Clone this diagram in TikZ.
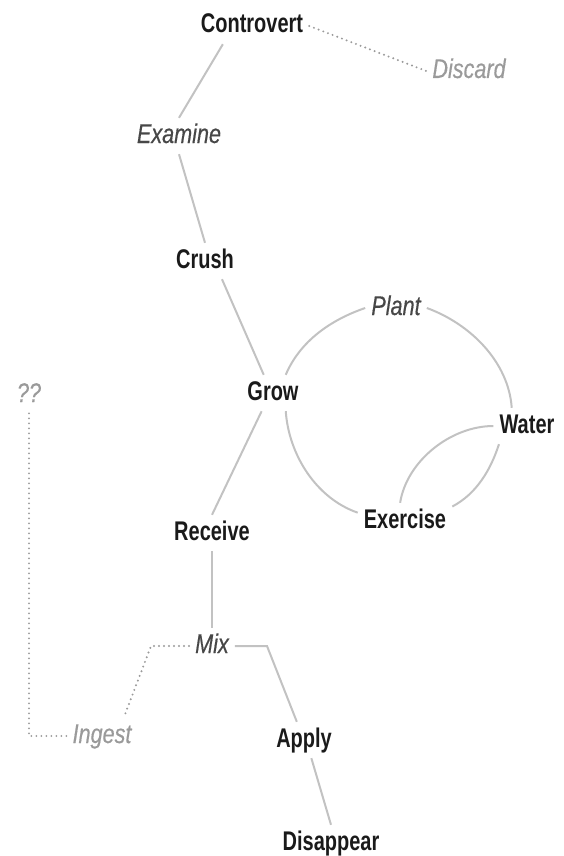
\documentclass[tikz,border=0pt]{standalone}
\usepackage{fontspec}
\setmainfont{Liberation Sans}[FakeStretch=0.74,ItalicFeatures={FakeStretch=0.8,FakeBold=0.4}]
\definecolor{ink}{HTML}{1A1A1A}
\definecolor{mid}{HTML}{474747}
\definecolor{pale}{HTML}{9A9A9A}
\definecolor{wire}{HTML}{C2C2C2}

\begin{document}
\begin{tikzpicture}
  [x=1pt,y=1pt,
   every node/.style={anchor=base,inner sep=6pt,text height=19pt,text depth=5pt,
     font=\fontsize{27}{30}\selectfont\bfseries,text=ink},
   soft/.style={font=\fontsize{27}{30}\selectfont\itshape,text=mid},
   faint/.style={font=\fontsize{27}{30}\selectfont\itshape,text=pale},
   link/.style={draw=wire,line width=2pt},
   ring/.style={link,looseness=.9},
   hint/.style={draw=pale,line width=2.2pt,line cap=round,dash pattern=on 0pt off 5pt}]
  \useasboundingbox (0,0) rectangle (564,-856);

  \node (controvert) at (252,-33) {Controvert};
  \node[faint] (discard) at (469,-78) {Discard};
  \node[soft] (examine) at (179,-143) {Examine};
  \node (crush) at (205,-268) {Crush};
  \node[soft] (plant) at (396,-315) {Plant};
  \node (grow) at (273,-400) {Grow};
  \node (water) at (527,-433) {Water};
  \node[faint] (unknown) at (29,-402) {??};
  \node (exercise) at (405,-528) {Exercise};
  \node (receive) at (212,-540) {Receive};
  \node[soft] (mix) at (212,-653) {Mix};
  \node[faint] (ingest) at (102,-743) {Ingest};
  \node (apply) at (304,-747) {Apply};
  \node (disappear) at (331,-850) {Disappear};

  \draw[link] (controvert.212) -- (examine.north);
  \draw[link] (examine.south) -- (crush.north);
  \draw[link] (crush.313) -- (grow.117);
  \draw[link] (grow.238) -- (receive.north);
  \draw[link] (receive) -- (mix);
  \draw[link] (mix.east) -- ++(32,0) -- (apply);
  \draw[link] (apply.292) -- (disappear.north);

  % the loop round grow
  \draw[ring] (grow.55) to[out=67,in=199] (plant.west);
  \draw[ring] (plant.east) to[out=-20,in=94] (water.130);
  \draw[ring] (water.213) to[out=-108,in=28] (exercise.17);
  \draw[ring] (exercise.170) to[out=161,in=-86] (grow.305);
  \draw[ring] (water.west) to[out=180,in=81] (exercise.105);

  \draw[hint] (controvert.east) -- (discard.west);
  \draw[hint] (mix.west) -- ++(-38,0) -- (ingest.40);
  \draw[hint] (ingest.west) -| (unknown.south);

\end{tikzpicture}
\end{document}
